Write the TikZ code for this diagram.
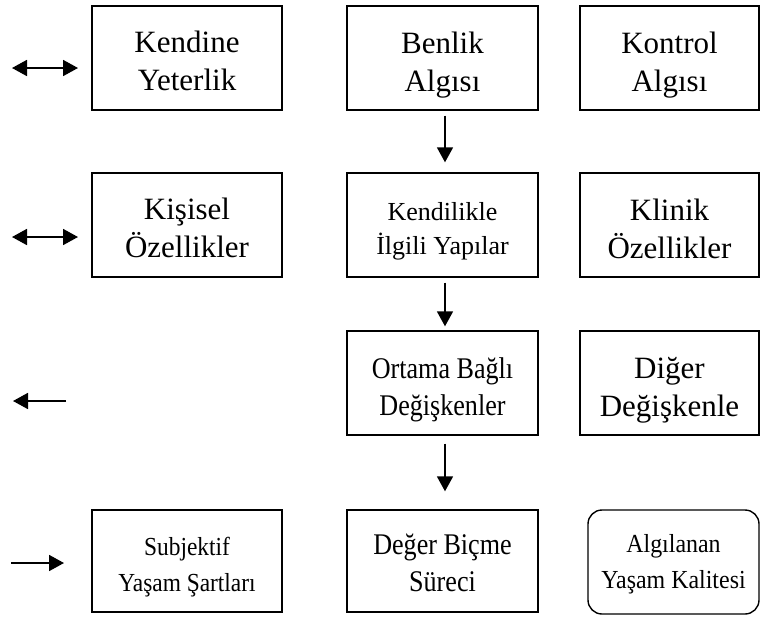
\documentclass[tikz,border=0pt]{standalone}
\usepackage{fontspec}
\usepackage{graphicx}
\setmainfont{Liberation Serif}
\usetikzlibrary{arrows.meta,positioning}
\newcommand{\narrow}[2][0.87]{\scalebox{#1}[1]{#2}}
\begin{document}
\begin{tikzpicture}[x=1pt,y=-1pt,
  box/.style={draw=black,line width=1.4pt,inner sep=0pt,minimum height=104pt},
  txt/.style={inner sep=0pt,align=center},
  big/.style={txt,font=\fontsize{31}{38}\selectfont},
  mid/.style={txt,font=\fontsize{26}{34}\selectfont},
  nar/.style={txt,font=\fontsize{30}{37}\selectfont},
  sml/.style={txt,font=\fontsize{26}{36}\selectfont},
  arr/.style={line width=1.8pt,-{Triangle[length=15pt,width=16pt]}},
  darr/.style={line width=1.8pt,{Triangle[length=15pt,width=16pt]}-{Triangle[length=15pt,width=16pt]}}]
\useasboundingbox (0,0) rectangle (761,619);
% row 1
\node[box,minimum width=190pt] (ky) at (187,58) {};
\node[big] (kyt) at ([yshift=-6pt]ky.center) {\strut Kendine\\\strut Yeterlik};
\node[box,minimum width=191pt] (ba) at (442.5,58) {};
\node[big] (bat) at ([yshift=-7pt]ba.center) {\strut Benlik\\\strut Algısı};
\node[box,minimum width=179pt] (ka) at (669.5,58) {};
\node[big] (kat) at ([yshift=-7pt]ka.center) {\strut Kontrol\\\strut Algısı};
% row 2
\node[box,minimum width=190pt] (ko) at (187,225) {};
\node[big] (kot) at ([yshift=-6pt]ko.center) {\strut Kişisel\\\strut Özellikler};
\node[box,minimum width=191pt] (ki) at (442.5,225) {};
\node[mid] (kit) at ([yshift=-6pt]ki.center) {\strut Kendilikle\\\strut İlgili Yapılar};
\node[box,minimum width=179pt] (kl) at (669.5,225) {};
\node[big] (klt) at ([yshift=-7pt]kl.center) {\strut Klinik\\\strut Özellikler};
% row 3
\node[box,minimum width=191pt] (ob) at (442.5,383) {};
\node[nar] (obt) at ([yshift=-7pt]ob.center) {\strut\narrow{Ortama Bağlı}\\\strut\narrow{Değişkenler}};
\node[box,minimum width=179pt] (dd) at (669.5,383) {};
\node[big] (ddt) at ([yshift=-7pt]dd.center) {\strut Diğer\\\strut Değişkenle};
% row 4
\node[box,minimum width=190pt,minimum height=102pt] (sy) at (187,561) {};
\node[sml] (syt) at ([yshift=-5pt]sy.center) {\strut\narrow[0.9]{Subjektif}\\\strut\narrow[0.9]{Yaşam Şartları}};
\node[box,minimum width=191pt,minimum height=102pt] (db) at (442.5,561) {};
\node[nar] (dbt) at ([yshift=-5pt]db.center) {\strut\narrow{Değer Biçme}\\\strut\narrow{Süreci}};
\node[box,minimum width=171pt,minimum height=104pt,rounded corners=14pt] (ay) at (673.5,562) {};
\node[sml] (ayt) at ([yshift=-1pt]ay.center) {\strut\narrow[0.92]{Algılanan}\\\strut\narrow[0.92]{Yaşam Kalitesi}};
% vertical arrows
\draw[arr,shorten <=5pt,shorten >=10pt] ([xshift=2.5pt]ba.south) -- ([xshift=2.5pt]ki.north);
\draw[arr,shorten <=5pt,shorten >=4pt] ([xshift=2.5pt]ki.south) -- ([xshift=2.5pt]ob.north);
\draw[arr,shorten <=8pt,shorten >=18pt] ([xshift=2.5pt]ob.south) -- ([xshift=2.5pt]db.north);
% free arrows on the left
\coordinate (a1) at (12,68);  \coordinate (b1) at (78,68);
\coordinate (a2) at (12,237); \coordinate (b2) at (78,237);
\coordinate (a3) at (66,401); \coordinate (b3) at (13,401);
\coordinate (a4) at (11,563); \coordinate (b4) at (64,563);
\draw[darr] (a1) -- (b1);
\draw[darr] (a2) -- (b2);
\draw[arr] (a3) -- (b3);
\draw[arr] (a4) -- (b4);
\end{tikzpicture}
\end{document}
